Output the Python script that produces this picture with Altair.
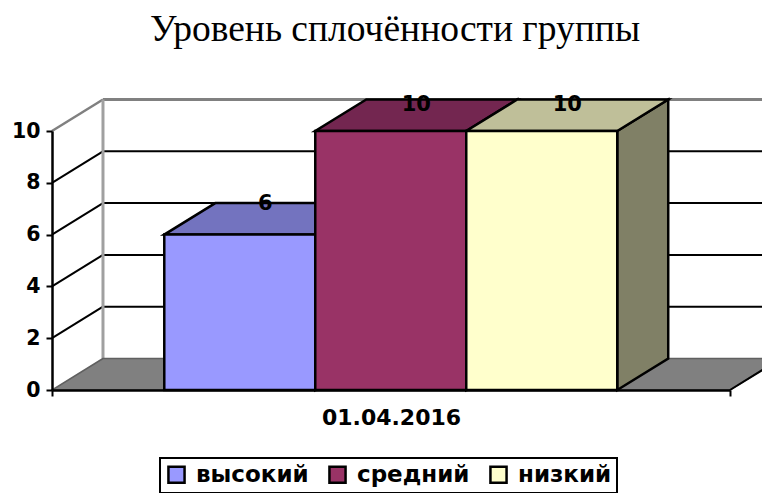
import altair as alt
import pandas as pd

title_text = "Уровень сплочённости группы"
category = "01.04.2016"
series = ["высокий", "средний", "низкий"]
values = [6, 10, 10]
label_lift = [1.2, 1.0, 1.0]
front_colors = ["#9999FF", "#993366", "#FFFFCC"]
top_colors = ["#7373BF", "#732650", "#BFBF99"]
side_colors = ["#737340", "#732650", "#808066"]
y_ticks = [0, 2, 4, 6, 8, 10]
grid_values = [2, 4, 6, 8]

# geometry of the pseudo-3D box in axis units
depth_x = 0.0752
depth_y = 1.216
bar_start = 0.1656
bar_width = 0.2227

FONT = "DejaVu Sans"
xs = alt.Scale(domain=[0, 1], nice=False, zero=False)
ys = alt.Scale(domain=[0, 10], nice=False, zero=False)

x_axis = alt.Axis(
    values=[0, 1], labels=False, grid=False, title=category, tickSize=6, tickWidth=2,
    tickColor="#000000", domainColor="#000000", domainWidth=2.5, zindex=1,
    titleFont=FONT, titleFontSize=22, titleFontWeight="bold", titleColor="#000000",
    titlePadding=10,
)
y_axis = alt.Axis(
    values=y_ticks, grid=False, title=None, tickSize=6, tickWidth=2,
    tickColor="#000000", domainColor="#000000", domainWidth=2.5, zindex=1,
    labelFont=FONT, labelFontSize=20.5, labelFontWeight="bold", labelColor="#000000",
    labelPadding=6,
)


def X():
    return alt.X("x:Q", scale=xs, axis=x_axis)


def Y():
    return alt.Y("y:Q", scale=ys, axis=y_axis)


# walls: grid lines and their diagonals
rule_rows = []
for v in grid_values:
    rule_rows.append(dict(x=0, x2=depth_x, y=v, y2=v + depth_y, c="#000000", w=2))
    rule_rows.append(dict(x=depth_x, x2=1 + depth_x, y=v + depth_y, y2=v + depth_y, c="#000000", w=2))
rule_rows += [
    dict(x=0, x2=depth_x, y=10, y2=10 + depth_y, c="#808080", w=2.5),
    dict(x=depth_x, x2=1 + depth_x, y=10 + depth_y, y2=10 + depth_y, c="#808080", w=3),
    dict(x=depth_x, x2=depth_x, y=depth_y, y2=10 + depth_y, c="#A0A0A0", w=3),
]
rules = alt.Chart(pd.DataFrame(rule_rows)).mark_rule().encode(
    x=X(), x2="x2:Q", y=Y(), y2="y2:Q",
    stroke=alt.Stroke("c:N", scale=None),
    strokeWidth=alt.StrokeWidth("w:Q", scale=None),
)

floor = alt.Chart(pd.DataFrame({
    "y": [0, depth_y], "x": [0, depth_x], "x2": [1, 1 + depth_x],
})).mark_area(orient="horizontal", fill="#808080", stroke="#606060", strokeWidth=1.5).encode(
    y=Y(), x=X(), x2="x2:Q",
)
floor_edge = alt.Chart(pd.DataFrame([
    dict(x=1, x2=1 + depth_x, y=0, y2=depth_y),
])).mark_rule(color="#000000", strokeWidth=2).encode(x=X(), x2="x2:Q", y=Y(), y2="y2:Q")

left = [bar_start + i * bar_width for i in range(3)]
right = [l + bar_width for l in left]

side_rows, top_rows, front_rows, label_rows = [], [], [], []
for i, s in enumerate(series):
    v = values[i]
    side_rows.append(dict(s=s, x=right[i], y=0, y2=v, c=side_colors[i]))
    side_rows.append(dict(s=s, x=right[i] + depth_x, y=depth_y, y2=v + depth_y, c=side_colors[i]))
    top_rows.append(dict(s=s, y=v, x=left[i], x2=right[i], c=top_colors[i]))
    top_rows.append(dict(s=s, y=v + depth_y, x=left[i] + depth_x, x2=right[i] + depth_x, c=top_colors[i]))
    front_rows.append(dict(s=s, x=left[i], x2=right[i], y=0, y2=v))
    label_rows.append(dict(x=(left[i] + right[i] + depth_x) / 2, y=v + label_lift[i], t=str(v)))

sides = alt.Chart(pd.DataFrame(side_rows)).mark_area(
    orient="vertical", stroke="#000000", strokeWidth=2.5
).encode(x=X(), y=Y(), y2="y2:Q", fill=alt.Fill("c:N", scale=None), detail="s:N")

tops = alt.Chart(pd.DataFrame(top_rows)).mark_area(
    orient="horizontal", stroke="#000000", strokeWidth=2.5
).encode(y=Y(), x=X(), x2="x2:Q", fill=alt.Fill("c:N", scale=None), detail="s:N")

fronts = alt.Chart(pd.DataFrame(front_rows)).mark_rect(
    stroke="#000000", strokeWidth=2.5
).encode(
    x=X(),
    x2="x2:Q",
    y=Y(),
    y2="y2:Q",
    fill=alt.Fill(
        "s:N",
        scale=alt.Scale(domain=series, range=front_colors),
        legend=alt.Legend(
            title=None, orient="none", legendX=108, legendY=327, direction="horizontal",
            columns=3, symbolType="square", symbolSize=260, symbolStrokeColor="#000000",
            symbolStrokeWidth=2.5, labelFont=FONT, labelFontSize=23, labelFontWeight="bold",
            labelColor="#000000", labelLimit=300, fillColor="#FFFFFF", strokeColor="#000000",
            padding=5, columnPadding=15, labelOffset=8,
        ),
    ),
)

labels = alt.Chart(pd.DataFrame(label_rows)).mark_text(
    font=FONT, fontSize=21, fontWeight="bold", color="#000000", baseline="middle", align="center"
).encode(x=X(), y=Y(), text="t:N")

chart = alt.layer(rules, floor, floor_edge, sides, tops, fronts, labels).properties(
    width=678,
    height=259,
    padding={"left": 44, "top": 123, "right": 32, "bottom": 103},
    autosize=alt.AutoSizeParams(type="none"),
    title=alt.TitleParams(
        title_text, font="Liberation Serif", fontSize=37.5, fontWeight="normal",
        color="#000000", anchor="middle", dx=4, offset=46,
    ),
).configure_view(stroke=None).configure_legend(strokeWidth=2)

chart.save("out.html", embed_options={"renderer": "svg", "actions": False})
